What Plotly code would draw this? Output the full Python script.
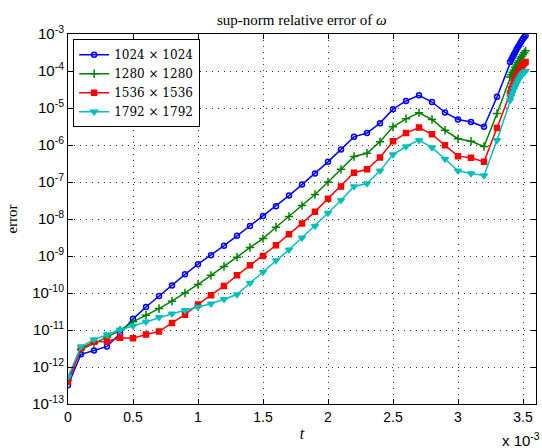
import plotly.graph_objects as go

# time in units of 1e-3
t = [0.0, 0.1, 0.2, 0.3, 0.4, 0.5, 0.6, 0.7, 0.8, 0.9,
     1.0, 1.1, 1.2, 1.3, 1.4, 1.5, 1.6, 1.7, 1.8, 1.9,
     2.0, 2.1, 2.2, 2.3, 2.4, 2.5, 2.6, 2.7, 2.8, 2.9,
     3.0, 3.1, 3.2, 3.3, 3.4, 3.41, 3.42, 3.43, 3.44, 3.45,
     3.46, 3.47, 3.48, 3.49, 3.50, 3.51, 3.52]

err_1024 = [3.2e-13, 2.2e-12, 2.8e-12, 3.6e-12, 7.9e-12, 2.0e-11, 4.2e-11, 8.3e-11, 1.6e-10, 3.2e-10,
            6.0e-10, 1.05e-9, 1.9e-9, 3.5e-9, 6.5e-9, 1.2e-8, 2.2e-8, 4.3e-8, 8.5e-8, 1.7e-7,
            3.5e-7, 7.6e-7, 1.66e-6, 2.1e-6, 3.9e-6, 9.3e-6, 1.55e-5, 2.2e-5, 1.45e-5, 7.6e-6,
            4.9e-6, 4.2e-6, 3.1e-6, 2.0e-5, 1.74e-4, 2.04e-4, 2.4e-4, 2.8e-4, 3.2e-4, 3.8e-4,
            4.4e-4, 5.0e-4, 5.75e-4, 6.6e-4, 7.4e-4, 8.3e-4, 9.1e-4]

err_1280 = [4.4e-13, 2.95e-12, 4.3e-12, 6.5e-12, 9.8e-12, 1.66e-11, 2.5e-11, 3.8e-11, 6.0e-11, 1.0e-10,
            1.7e-10, 3.0e-10, 5.2e-10, 9.3e-10, 1.7e-9, 2.95e-9, 6.0e-9, 1.17e-8, 2.3e-8, 4.6e-8,
            1.0e-7, 2.2e-7, 4.9e-7, 6.0e-7, 1.23e-6, 3.1e-6, 5.1e-6, 7.4e-6, 4.9e-6, 2.5e-6,
            1.48e-6, 1.26e-6, 9.1e-7, 7.1e-6, 6.9e-5, 7.9e-5, 9.3e-5, 1.07e-4, 1.26e-4, 1.45e-4,
            1.66e-4, 1.9e-4, 2.2e-4, 2.45e-4, 2.75e-4, 3.1e-4, 3.5e-4]

err_1536 = [4.0e-13, 3.2e-12, 4.8e-12, 4.9e-12, 6.2e-12, 6.0e-12, 7.6e-12, 9.1e-12, 1.55e-11, 2.6e-11,
            4.9e-11, 8.7e-11, 1.55e-10, 3.0e-10, 5.6e-10, 1.0e-9, 1.95e-9, 3.9e-9, 7.6e-9, 1.58e-8,
            3.5e-8, 7.6e-8, 1.78e-7, 2.2e-7, 4.6e-7, 1.26e-6, 2.1e-6, 2.95e-6, 1.95e-6, 9.8e-7,
            5.0e-7, 4.5e-7, 3.5e-7, 2.9e-6, 2.45e-5, 3.2e-5, 4.0e-5, 4.9e-5, 6.0e-5, 7.2e-5,
            8.5e-5, 1.0e-4, 1.15e-4, 1.32e-4, 1.48e-4, 1.62e-4, 1.74e-4]

err_1792 = [5.4e-13, 3.6e-12, 5.5e-12, 7.6e-12, 1.02e-11, 1.29e-11, 1.66e-11, 2.2e-11, 2.75e-11, 3.4e-11,
            4.2e-11, 5.1e-11, 6.8e-11, 9.1e-11, 1.86e-10, 3.7e-10, 7.6e-10, 1.48e-9, 3.1e-9, 6.5e-9,
            1.45e-8, 3.2e-8, 7.6e-8, 9.1e-8, 2.0e-7, 5.5e-7, 9.1e-7, 1.35e-6, 8.5e-7, 4.2e-7,
            2.0e-7, 1.7e-7, 1.5e-7, 1.35e-6, 1.62e-5, 2.1e-5, 2.6e-5, 3.2e-5, 3.9e-5, 4.6e-5,
            5.4e-5, 6.2e-5, 7.1e-5, 7.9e-5, 8.7e-5, 9.3e-5, 1.0e-4]

series_names = ["1024 × 1024", "1280 × 1280", "1536 × 1536", "1792 × 1792"]
series_vals = [err_1024, err_1280, err_1536, err_1792]
colors = ["#0000ff", "#008000", "#ff0000", "#00bfbf"]
symbols = ["circle-open", "cross-thin-open", "square", "triangle-down"]
msizes = [5, 6, 5, 6]

x_ticks = [0, 0.5, 1, 1.5, 2, 2.5, 3, 3.5]
x_ticktext = ["0", "0.5", "1", "1.5", "2", "2.5", "3", "3.5"]
y_exps = [-13, -12, -11, -10, -9, -8, -7, -6, -5, -4, -3]

fig = go.Figure()
for name, vals, c, s, ms in zip(series_names, series_vals, colors, symbols, msizes):
    fig.add_trace(go.Scatter(
        x=t, y=vals, name=name, mode="lines+markers",
        line=dict(color=c, width=1.5),
        marker=dict(symbol=s, size=ms, color=c, line=dict(color=c, width=1.5)),
    ))

serif = "DejaVu Serif, Liberation Serif, serif"
serif2 = "Liberation Serif, DejaVu Serif, serif"
sans = "Liberation Sans, Arial, sans-serif"
grid_dash = "1px,5px"

fig.update_layout(
    width=542, height=448,
    margin=dict(l=68, r=6, t=34, b=44),
    paper_bgcolor="white", plot_bgcolor="white",
    showlegend=True,
    legend=dict(
        x=0.011, y=0.986, xanchor="left", yanchor="top",
        bgcolor="white", bordercolor="black", borderwidth=1,
        font=dict(family=serif, size=12, color="black"),
        tracegroupgap=0, itemwidth=30,
    ),
    xaxis=dict(
        range=[0, 3.6], tickvals=x_ticks, ticktext=x_ticktext,
        showgrid=True, gridcolor="#333", griddash=grid_dash, gridwidth=1,
        showline=True, linecolor="black", linewidth=1, mirror="ticks",
        ticks="inside", ticklen=5, tickcolor="black",
        tickfont=dict(family=sans, size=14, color="black"),
        zeroline=False,
        title=dict(text="<i>t</i>", font=dict(family=serif2, size=16, color="black"), standoff=4),
    ),
    yaxis=dict(
        type="log", range=[-13, -3],
        tickvals=[10.0 ** e for e in y_exps],
        ticktext=["10<sup>%d</sup>" % e for e in y_exps],
        showgrid=True, gridcolor="#333", griddash=grid_dash, gridwidth=1,
        showline=True, linecolor="black", linewidth=1, mirror="ticks",
        ticks="inside", ticklen=5, tickcolor="black",
        tickfont=dict(family=sans, size=15, color="black"),
        zeroline=False,
        title=dict(text="error", font=dict(family=serif2, size=15, color="black"), standoff=10),
    ),
    annotations=[
        dict(text="sup-norm relative error of <i>ω</i>", xref="paper", yref="paper",
             x=0.5, y=1, xanchor="center", yanchor="bottom", yshift=4, showarrow=False,
             font=dict(family=serif2, size=15, color="black")),
        dict(text="x 10<sup>-3</sup>", xref="paper", yref="paper",
             x=1, y=0, xanchor="right", yanchor="top", xshift=6, yshift=-24, showarrow=False,
             font=dict(family=sans, size=15, color="black")),
    ],
)

fig.write_html("out.html")
